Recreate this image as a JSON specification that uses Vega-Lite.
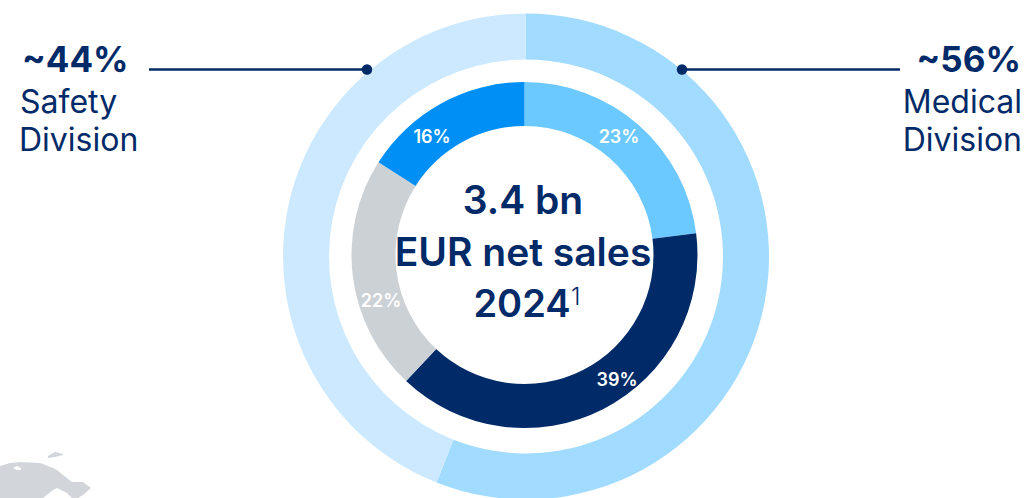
{"$schema":"https://vega.github.io/schema/vega-lite/v6.json","width":1026,"height":498,"padding":0,"autosize":{"type":"none"},"background":"#ffffff","config":{"view":{"stroke":null},"text":{"font":"Inter"}},
"resolve":{"scale":{"color":"shared"}},
"layer":[
{"data":{"values":[{"piece":"land","px":0,"top":466,"bottom":498},{"piece":"land","px":10,"top":463,"bottom":498},{"piece":"land","px":20,"top":462,"bottom":498},{"piece":"land","px":40,"top":463,"bottom":498},{"piece":"land","px":43,"top":464,"bottom":498},{"piece":"land","px":53,"top":468,"bottom":490},{"piece":"land","px":57,"top":470,"bottom":488},{"piece":"land","px":63,"top":475,"bottom":491},{"piece":"land","px":67,"top":478,"bottom":493},{"piece":"land","px":72,"top":482,"bottom":498},{"piece":"land","px":78,"top":482,"bottom":498},{"piece":"land","px":83,"top":482,"bottom":495},{"piece":"land","px":91,"top":488,"bottom":488},{"piece":"island","px":48,"top":456,"bottom":458},{"piece":"island","px":55,"top":452,"bottom":457},{"piece":"island","px":63,"top":454,"bottom":455},{"piece":"inlet","px":13,"top":468,"bottom":468},{"piece":"inlet","px":17,"top":466,"bottom":470},{"piece":"inlet","px":21,"top":468,"bottom":470}]},
"mark":{"type":"area","interpolate":"linear"},
"encoding":{"x":{"field":"px","type":"quantitative","scale":{"domain":[0,1026],"range":[0,1026],"nice":false,"zero":false},"axis":null},"y":{"field":"top","type":"quantitative","stack":null,"scale":{"domain":[0,498],"range":[0,498],"nice":false,"zero":false},"axis":null},"y2":{"field":"bottom"},"detail":{"field":"piece"},"color":{"field":"piece","type":"nominal","scale":{"domain":["land","island","inlet","Medical","Safety","a","b","c","d"],"range":["#d2d6db","#d2d6db","#ffffff","#a1dbff","#cce9ff","#6cc9ff","#012a69","#ccd1d6","#0090f5"]},"legend":null}}},
{"data":{"values":[{"division":"Medical","share":56,"rank":1},{"division":"Safety","share":44,"rank":2}]},
"mark":{"type":"arc","innerRadius":197,"outerRadius":243},
"encoding":{"theta":{"field":"share","type":"quantitative","stack":true,"scale":{"domain":[0,100]}},"order":{"field":"rank"},"x":{"datum":526},"y":{"datum":256.5},"color":{"field":"division","type":"nominal"}}},
{"data":{"values":[{"segment":"a","share":23,"rank":1},{"segment":"b","share":39,"rank":2},{"segment":"c","share":22,"rank":3},{"segment":"d","share":16,"rank":4}]},
"mark":{"type":"arc","innerRadius":129,"outerRadius":173},
"encoding":{"theta":{"field":"share","type":"quantitative","stack":true,"scale":{"domain":[0,100]}},"order":{"field":"rank"},"x":{"datum":524.5},"y":{"datum":255},"color":{"field":"segment","type":"nominal"}}},
{"data":{"values":[{"s":1}]},"mark":{"type":"rule","color":"#012a69","strokeWidth":2.5},"encoding":{"x":{"datum":149},"x2":{"datum":367},"y":{"datum":69.5}}},
{"data":{"values":[{"s":1}]},"mark":{"type":"rule","color":"#012a69","strokeWidth":2.5},"encoding":{"x":{"datum":682},"x2":{"datum":900},"y":{"datum":69.5}}},
{"data":{"values":[{"s":1}]},"mark":{"type":"point","filled":true,"color":"#012a69","size":110,"opacity":1},"encoding":{"x":{"datum":367},"y":{"datum":69.5}}},
{"data":{"values":[{"s":1}]},"mark":{"type":"point","filled":true,"color":"#012a69","size":110,"opacity":1},"encoding":{"x":{"datum":682},"y":{"datum":69.5}}},
{"data":{"values":[{"t":"~44%"}]},"mark":{"type":"text","align":"left","baseline":"alphabetic","fontSize":35,"fontWeight":700,"color":"#012a69"},"encoding":{"text":{"field":"t"},"x":{"datum":22},"y":{"datum":72}}},
{"data":{"values":[{"t":"Safety"}]},"mark":{"type":"text","align":"left","baseline":"alphabetic","fontSize":32,"fontWeight":400,"color":"#012a69"},"encoding":{"text":{"field":"t"},"x":{"datum":20},"y":{"datum":113}}},
{"data":{"values":[{"t":"Division"}]},"mark":{"type":"text","align":"left","baseline":"alphabetic","fontSize":32,"fontWeight":400,"color":"#012a69"},"encoding":{"text":{"field":"t"},"x":{"datum":19},"y":{"datum":151}}},
{"data":{"values":[{"t":"~56%"}]},"mark":{"type":"text","align":"right","baseline":"alphabetic","fontSize":35,"fontWeight":700,"color":"#012a69"},"encoding":{"text":{"field":"t"},"x":{"datum":1021},"y":{"datum":72}}},
{"data":{"values":[{"t":"Medical"}]},"mark":{"type":"text","align":"right","baseline":"alphabetic","fontSize":32,"fontWeight":400,"color":"#012a69"},"encoding":{"text":{"field":"t"},"x":{"datum":1022},"y":{"datum":113}}},
{"data":{"values":[{"t":"Division"}]},"mark":{"type":"text","align":"right","baseline":"alphabetic","fontSize":32,"fontWeight":400,"color":"#012a69"},"encoding":{"text":{"field":"t"},"x":{"datum":1022},"y":{"datum":151}}},
{"data":{"values":[{"t":"3.4 bn"}]},"mark":{"type":"text","align":"center","baseline":"alphabetic","fontSize":39,"fontWeight":600,"color":"#012a69"},"encoding":{"text":{"field":"t"},"x":{"datum":523},"y":{"datum":214}}},
{"data":{"values":[{"t":"EUR net sales"}]},"mark":{"type":"text","align":"center","baseline":"alphabetic","fontSize":39,"fontWeight":600,"color":"#012a69"},"encoding":{"text":{"field":"t"},"x":{"datum":523},"y":{"datum":266}}},
{"data":{"values":[{"t":"2024"}]},"mark":{"type":"text","align":"center","baseline":"alphabetic","fontSize":38,"fontWeight":600,"color":"#012a69"},"encoding":{"text":{"field":"t"},"x":{"datum":522},"y":{"datum":317}}},
{"data":{"values":[{"t":"1"}]},"mark":{"type":"text","align":"left","baseline":"alphabetic","fontSize":24,"fontWeight":300,"color":"#012a69"},"encoding":{"text":{"field":"t"},"x":{"datum":571},"y":{"datum":305}}},
{"data":{"values":[{"t":"23%"}]},"mark":{"type":"text","align":"center","baseline":"alphabetic","fontSize":18,"fontWeight":600,"color":"#ffffff"},"encoding":{"text":{"field":"t"},"x":{"datum":619},"y":{"datum":143}}},
{"data":{"values":[{"t":"16%"}]},"mark":{"type":"text","align":"center","baseline":"alphabetic","fontSize":18,"fontWeight":600,"color":"#ffffff"},"encoding":{"text":{"field":"t"},"x":{"datum":432},"y":{"datum":143}}},
{"data":{"values":[{"t":"22%"}]},"mark":{"type":"text","align":"center","baseline":"alphabetic","fontSize":18,"fontWeight":600,"color":"#ffffff"},"encoding":{"text":{"field":"t"},"x":{"datum":381},"y":{"datum":307}}},
{"data":{"values":[{"t":"39%"}]},"mark":{"type":"text","align":"center","baseline":"alphabetic","fontSize":18,"fontWeight":600,"color":"#ffffff"},"encoding":{"text":{"field":"t"},"x":{"datum":617},"y":{"datum":386}}}
]}
